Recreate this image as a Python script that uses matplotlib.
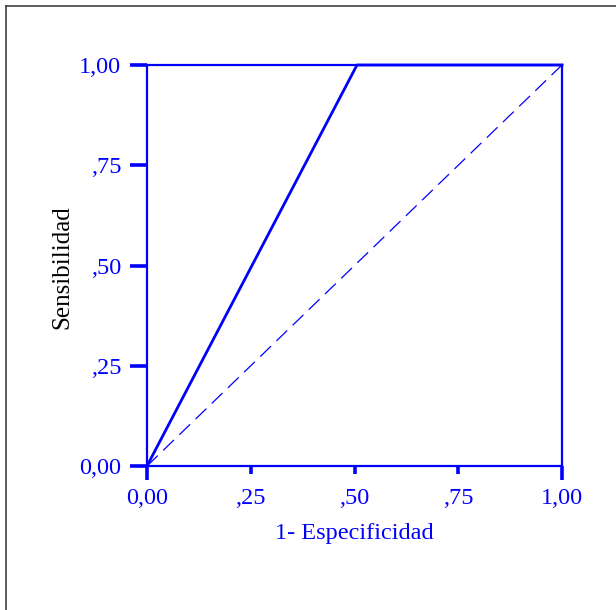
import matplotlib
matplotlib.use("Agg")
import matplotlib.pyplot as plt
from matplotlib.lines import Line2D

roc_x = [0.0, 0.506, 1.0]
roc_y = [0.0, 1.0, 1.0]
ref_x = [0.0, 1.0]
ref_y = [0.0, 1.0]
ticks = [0.0, 0.25, 0.5, 0.75, 1.0]
tick_labels = ["0,00", ",25", ",50", ",75", "1,00"]
xlabel = "1- Especificidad"
ylabel = "Sensibilidad"

BLUE = "#0000ff"
W, H = 616, 610
fig = plt.figure(figsize=(W / 100, H / 100), dpi=100)
ax = fig.add_axes([147 / W, (H - 466) / H, (562 - 147) / W, (466 - 65) / H])

ax.plot(ref_x, ref_y, color=BLUE, lw=0.9, dashes=(12, 6), solid_capstyle="butt")
ax.plot(roc_x, roc_y, color=BLUE, lw=2.0, clip_on=False)
ax.set_xlim(0, 1)
ax.set_ylim(0, 1)

for s in ax.spines.values():
    s.set_color(BLUE)
    s.set_linewidth(1.6)

font = "Liberation Serif"
LS = 17.5
ax.set_xticks([ticks[0], ticks[-1]])
ax.set_xticklabels([tick_labels[0], tick_labels[-1]])
ax.set_xticks(ticks[1:-1], minor=True)
ax.set_xticklabels(tick_labels[1:-1], minor=True)
ax.tick_params(axis="x", which="major", direction="out", length=10, width=2.6,
               color=BLUE, labelcolor=BLUE, pad=6, labelsize=LS)
ax.tick_params(axis="x", which="minor", direction="out", length=6, width=2.6,
               color=BLUE, labelcolor=BLUE, pad=10, labelsize=LS)
ax.set_yticks(ticks)
ax.set_yticklabels(tick_labels)
ax.tick_params(axis="y", which="major", direction="out", length=12.5, width=2.6,
               color=BLUE, labelcolor=BLUE, pad=6, labelsize=LS)
for lab in ax.get_xticklabels(which="both") + ax.get_yticklabels():
    lab.set_fontfamily(font)

fig.text(354 / W, 1 - 533 / H, xlabel, color=BLUE, fontsize=17.5, family=font,
         ha="center", va="center")
fig.text(62 / W, 1 - 267 / H, ylabel, color="black", fontsize=18, family=font,
         ha="center", va="center", rotation=90)

# figure frame (left and top edges)
fig.add_artist(Line2D([5.5 / W, 5.5 / W], [0, 1 - 5.5 / H], transform=fig.transFigure,
                      color="#404040", lw=1.2))
fig.add_artist(Line2D([5.5 / W, 1], [1 - 5.5 / H, 1 - 5.5 / H], transform=fig.transFigure,
                      color="#404040", lw=1.2))

fig.savefig("out.png", dpi=100)
